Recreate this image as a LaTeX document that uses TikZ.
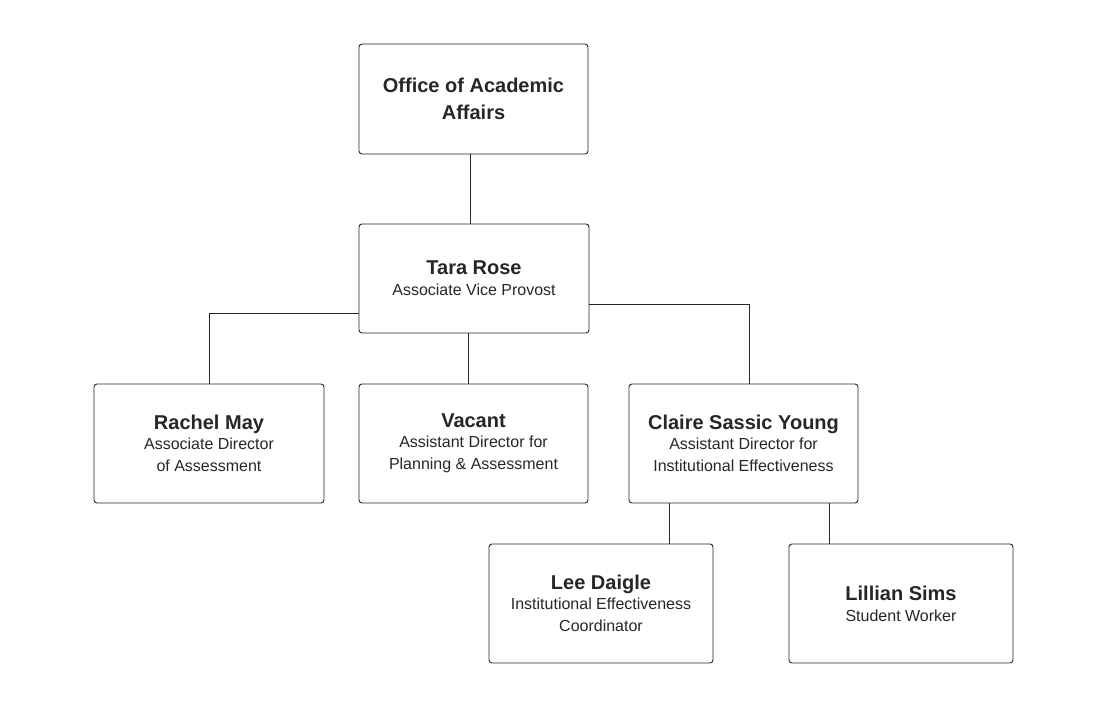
\documentclass[tikz,border=0pt]{standalone}
\usepackage{fontspec}
\setmainfont{Liberation Sans}
\newcommand\nmf{\fontsize{20}{24}\selectfont\bfseries}
\newcommand\sbf{\fontsize{16}{22}\selectfont\mdseries}
\begin{document}
\begin{tikzpicture}[x=1pt,y=-1pt,
  box/.style={draw=black!85,line width=0.9pt,rounded corners=3pt,align=center,inner sep=0pt,text=black!85},
  ln/.style={draw=black!85,line width=0.9pt}]
\useasboundingbox (0,0) rectangle (1101,713);
\node[box,minimum width=229,minimum height=110] (oaa) at (473.5,99) {\parbox{220pt}{\centering\fontsize{20}{27}\selectfont\bfseries Office of Academic\\ Affairs}};
\node[box,minimum width=230,minimum height=109] (tara) at (474,278.5) {\parbox{220pt}{\centering\nmf Tara Rose\\[-1pt]\sbf Associate Vice Provost}};
\node[box,minimum width=230,minimum height=119] (rach) at (209,443.5) {\parbox{220pt}{\centering\nmf Rachel May\\[-2pt]\sbf Associate Director\\ of Assessment}};
\node[box,minimum width=229,minimum height=119] (vac) at (473.5,443.5) {\parbox{220pt}{\centering\nmf Vacant\\[-2pt]\sbf Assistant Director for\\ Planning \& Assessment}};
\node[box,minimum width=229,minimum height=119] (cla) at (743.5,443.5) {\parbox{225pt}{\centering\nmf Claire Sassic Young\\[-2pt]\sbf Assistant Director for\\ Institutional Effectiveness}};
\node[box,minimum width=224,minimum height=119] (lee) at (601,603.5) {\parbox{220pt}{\centering\nmf Lee Daigle\\[-2pt]\sbf Institutional Effectiveness\\ Coordinator}};
\node[box,minimum width=224,minimum height=119] (lil) at (901,603.5) {\parbox{220pt}{\centering\nmf Lillian Sims\\[-1pt]\sbf Student Worker}};
\draw[ln] (oaa.south -| 470,0) -- (tara.north -| 470,0);
\draw[ln] (tara.west |- 0,313) -| (rach.north);
\draw[ln] (tara.south -| 468,0) -- (vac.north -| 468,0);
\draw[ln] (tara.east |- 0,304) -| (cla.north -| 749,0);
\draw[ln] (cla.south -| 669,0) -- (lee.north -| 669,0);
\draw[ln] (cla.south -| 829,0) -- (lil.north -| 829,0);
\end{tikzpicture}
\end{document}
